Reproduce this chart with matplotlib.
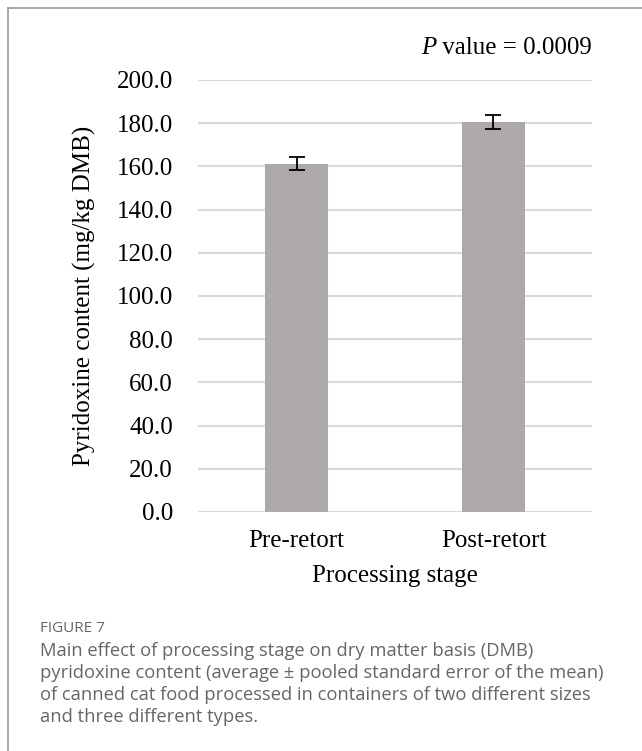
import numpy as np
import matplotlib.pyplot as plt
from matplotlib.lines import Line2D

# 数据
stages = ['Pre-retort', 'Post-retort']
pyridoxine = [161.3, 180.6]
sem = [3.1, 3.1]
y_ticks = np.arange(0, 201, 20)

W, H = 642, 751
fig = plt.figure(figsize=(W / 100, H / 100), dpi=100)
fig.patch.set_facecolor('white')

# 坐标轴位置（像素换算）
left, right, top, bottom = 198, 592, 80, 512
ax = fig.add_axes([left / W, 1 - bottom / H, (right - left) / W, (bottom - top) / H])

serif = 'Liberation Serif'
x = np.arange(len(stages))
ax.bar(x, pyridoxine, width=0.315, color='#ada9a9', zorder=2,
       yerr=sem, error_kw=dict(ecolor='black', elinewidth=1.3, capsize=5.5, capthick=1.3))

ax.set_xlim(-0.5, 1.5)
ax.set_ylim(0, 200)
ax.set_yticks(y_ticks)
ax.set_yticklabels([f'{v:.1f}' for v in y_ticks], fontfamily=serif, fontsize=18)
ax.set_xticks(x)
ax.set_xticklabels(stages, fontfamily=serif, fontsize=18)
ax.tick_params(axis='both', length=0)
ax.tick_params(axis='y', pad=18)
ax.tick_params(axis='x', pad=13)

ax.grid(axis='y', color='#d9d9d9', linewidth=1.5, zorder=0)
ax.set_axisbelow(True)
for s in ax.spines.values():
    s.set_visible(False)

ax.set_ylabel('Pyridoxine content (mg/kg DMB)', fontfamily=serif, fontsize=18, labelpad=15)
ax.set_xlabel('Processing stage', fontfamily=serif, fontsize=18, labelpad=9)

# P 值标注
pv = fig.text(592 / W, 1 - 48 / H, ' value = 0.0009', fontfamily=serif, fontsize=18,
              ha='right', va='center')
ax.annotate('P', xy=(0, 0.5), xycoords=pv, fontfamily=serif, fontsize=18,
            style='italic', ha='right', va='center')

# 外框
fig.add_artist(Line2D([8 / W, 1], [1 - 8 / H, 1 - 8 / H], color='#9a9a9a', linewidth=1.2))
fig.add_artist(Line2D([8 / W, 8 / W], [0, 1 - 8 / H], color='#9a9a9a', linewidth=1.2))

# 图注
cap_color = '#666666'
fig.text(40 / W, 1 - 628 / H, 'FIGURE 7', fontfamily='Open Sans', fontsize=11,
         color=cap_color, va='center')
caption = ['Main effect of processing stage on dry matter basis (DMB)',
           'pyridoxine content (average \u00b1 pooled standard error of the mean)',
           'of canned cat food processed in containers of two different sizes',
           'and three different types.']
for i, line in enumerate(caption):
    fig.text(40 / W, 1 - (651 + 22 * i) / H, line, fontfamily='Open Sans', fontsize=13.2,
             color=cap_color, va='center')

fig.savefig('out.png', dpi=100)
